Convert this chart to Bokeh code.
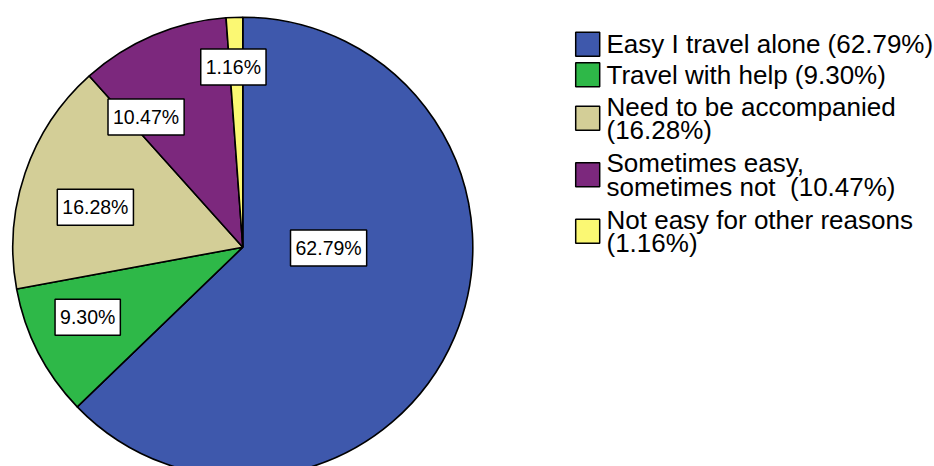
import numpy as np
from bokeh.plotting import figure
from bokeh.models import Range1d, ColumnDataSource
from bokeh.core.properties import value
from bokeh.embed import file_html
from bokeh.resources import INLINE

# ---------------- data ----------------
categories = [
    "Easy I travel alone",
    "Travel with help",
    "Need to be accompanied",
    "Sometimes easy, sometimes not ",
    "Not easy for other reasons",
]
percent = [62.79, 9.30, 16.28, 10.47, 1.16]
legend_labels = [
    "Easy I travel alone (62.79%)",
    "Travel with help (9.30%)",
    "Need to be accompanied\n(16.28%)",
    "Sometimes easy,\nsometimes not \u00a0(10.47%)",
    "Not easy for other reasons\n(1.16%)",
]
colors = ["#3E58AC", "#2EB848", "#D3CE97", "#7C287D", "#FBF873"]

# ---------------- layout ----------------
W, H = 934, 466
CX, CY, R = 242.3, H - 246.7, 230.0
label_r_frac = [0.373, 0.740, 0.664, 0.705, 0.785]
label_nudge_deg = [22.5, -2.9, 3.7, 13.6, 0.9]
FONT = "Liberation Sans"

p = figure(width=W, height=H, output_backend="svg", toolbar_location=None,
           x_range=Range1d(0, W), y_range=Range1d(0, H),
           x_axis_location=None, y_axis_location=None, min_border=0)
p.grid.visible = False
p.outline_line_color = None
p.background_fill_color = "white"
p.border_fill_color = "white"

vals = np.array(percent)
cum = np.concatenate([[0], np.cumsum(vals)]) / vals.sum()
starts = 90 - cum[:-1] * 360
ends = 90 - cum[1:] * 360
src = ColumnDataSource(dict(start=starts, end=ends, color=colors, cat=categories))
p.wedge(x=CX, y=CY, radius=R, start_angle="start", end_angle="end",
        start_angle_units="deg", end_angle_units="deg", direction="clock",
        fill_color="color", line_color="black", line_width=1.6, source=src)

mid = np.deg2rad((starts + ends) / 2 + np.array(label_nudge_deg))
lr = np.array(label_r_frac) * R
lsrc = ColumnDataSource(dict(x=CX + lr * np.cos(mid), y=CY + lr * np.sin(mid),
                             t=[f"{v:.2f}%" for v in percent]))
p.text(x="x", y="y", text="t", source=lsrc, text_align="center", text_baseline="middle",
       text_font=value(FONT), text_font_size="19.5px", text_color="black",
       background_fill_color="white", border_line_color="black", border_line_width=1.5,
       padding=dict(x=5, y=7))

# ---------------- legend ----------------
SQ_X, TXT_X = 587.2, 606
SQ = 24
GAP = 6.5
LINE = 23.5
nlines = [len(s.split("\n")) for s in legend_labels]
heights = [SQ + (n - 1) * 26 for n in nlines]
centers = []
y = 43.8 - heights[0] / 2
for h in heights:
    centers.append(y + h / 2)
    y += h + GAP
centers = np.array(centers)
p.rect(x=SQ_X, y=H - centers, width=SQ, height=SQ, fill_color=colors,
       line_color="black", line_width=1.5)
tx, ty, tt = [], [], []
for c, lab in zip(centers, legend_labels):
    lines = lab.split("\n")
    n = len(lines)
    for k, ln in enumerate(lines):
        tx.append(TXT_X)
        ty.append(H - (c + (k - (n - 1) / 2) * LINE))
        tt.append(ln)
p.text(x=tx, y=ty, text=tt, text_align="left", text_baseline="middle",
       text_font=value(FONT), text_font_size="26px", text_color="black")

open("out.html", "w").write(file_html(p, INLINE))
